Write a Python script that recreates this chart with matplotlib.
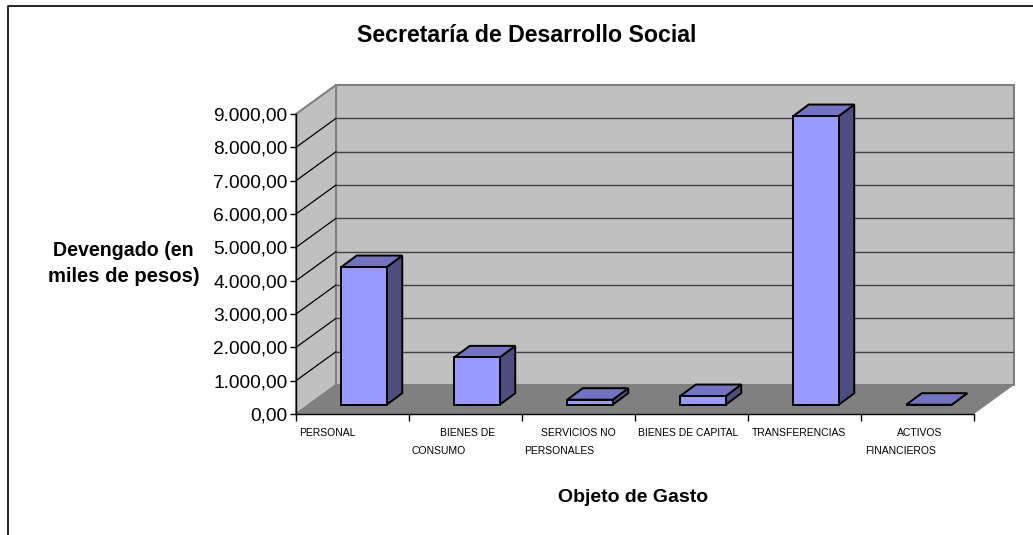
import matplotlib
matplotlib.use('Agg')
import matplotlib.pyplot as plt
from matplotlib.lines import Line2D

plt.rcParams['font.family'] = ['Liberation Sans', 'DejaVu Sans']

categories = ['PERSONAL', 'BIENES DE\nCONSUMO', 'SERVICIOS NO\nPERSONALES',
              'BIENES DE CAPITAL', 'TRANSFERENCIAS', 'ACTIVOS\nFINANCIEROS']
values = [4130, 1420, 150, 260, 8660, 0]
y_ticks = [0, 1000, 2000, 3000, 4000, 5000, 6000, 7000, 8000, 9000]
y_tick_labels = ['0,00', '1.000,00', '2.000,00', '3.000,00', '4.000,00',
                 '5.000,00', '6.000,00', '7.000,00', '8.000,00', '9.000,00']

W, H = 1033, 535
# pixel layout of the excel-ish 3d box
px_left, px_right, px_zero, px_top = 296, 974, 414, 114
px_dx, px_dy = 40, 29

y_scale = 9000 / (px_zero - px_top)
x_scale = 6 / (px_right - px_left)
depth_x = px_dx * x_scale
depth_y = px_dy * y_scale
bar_w = 45.5 * x_scale
bar_dx = 15.5 * x_scale
bar_dy = 11.5 * y_scale
bar_shift = 11.5 * x_scale
bar_base = 9.3 * y_scale

fig = plt.figure(figsize=(W / 100, H / 100), dpi=100)
# frame is cut off at the right and bottom of the picture
fig.add_artist(Line2D([7.5 / W, 7.5 / W, 1], [0, 1 - 5.5 / H, 1 - 5.5 / H],
                      transform=fig.transFigure, color='black', lw=1.2))

ax = fig.add_axes([px_left / W, (H - px_zero) / H,
                   (px_right - px_left + px_dx) / W, (px_zero - px_top + px_dy) / H])
ax.set_xlim(0, 6 + depth_x)
ax.set_ylim(0, 9000 + depth_y)
ax.patch.set_visible(False)

wall = '#C0C0C0'
floor = '#808080'
wall_edge = '#808080'

# walls and floor
ax.fill([depth_x, 6 + depth_x, 6 + depth_x, depth_x],
        [depth_y, depth_y, 9000 + depth_y, 9000 + depth_y],
        fc=wall, ec=wall_edge, lw=1.5, zorder=1, clip_on=False)
ax.fill([0, depth_x, depth_x, 0], [0, depth_y, 9000 + depth_y, 9000],
        fc=wall, ec=wall_edge, lw=1.5, zorder=1, clip_on=False)
ax.fill([0, 6, 6 + depth_x, depth_x], [0, 0, depth_y, depth_y],
        fc=floor, ec='none', zorder=2, clip_on=False)

# gridlines, the top one is just the gray wall edge
for t in y_ticks[1:-1]:
    ax.plot([0, depth_x], [t, t + depth_y], color='black', lw=0.9, zorder=2)
    ax.plot([depth_x, 6 + depth_x], [t + depth_y, t + depth_y], color='#404040', lw=1.0, zorder=2)

# bars: front face from ax.bar, side and top from polygons
centers = [i + 0.5 + bar_shift for i in range(len(values))]
for c, v in zip(centers, values):
    x0 = c - bar_w / 2
    x1 = c + bar_w / 2
    top = bar_base + v
    ax.fill([x1, x1 + bar_dx, x1 + bar_dx, x1],
            [bar_base, bar_base + bar_dy, top + bar_dy, top],
            fc='#4D4D80', ec='black', lw=1.4, zorder=4)
    ax.fill([x0, x1, x1 + bar_dx, x0 + bar_dx],
            [top, top, top + bar_dy, top + bar_dy],
            fc='#7373BF', ec='black', lw=1.4, zorder=4)
ax.bar(centers, values, width=bar_w, bottom=bar_base, color='#9999FF',
       edgecolor='black', linewidth=1.4, zorder=5)

# axes
for s in ['top', 'right']:
    ax.spines[s].set_visible(False)
ax.spines['left'].set_bounds(0, 9000)
ax.spines['bottom'].set_bounds(0, 6)
ax.spines['left'].set_linewidth(1.0)
ax.spines['bottom'].set_linewidth(1.0)
ax.spines['left'].set_zorder(6)
ax.spines['bottom'].set_zorder(6)
ax.set_yticks(y_ticks)
ax.set_yticklabels(y_tick_labels, fontsize=13.8)
ax.set_xticks(range(7))
ax.set_xticklabels([])
ax.tick_params(axis='y', length=4, width=1, pad=2)
ax.tick_params(axis='x', length=5, width=1)

# category labels sit where excel wrapped them, not centred on the ticks
first_line_x = [327, 467.5, 578.5, 688.5, 799, 920]
second_line_x = [None, 438.5, 559.5, None, None, 901]
for lab, x1, x2 in zip(categories, first_line_x, second_line_x):
    parts = lab.split('\n')
    fig.text(x1 / W, 1 - 433 / H, parts[0], fontsize=7.5, ha='center', va='center')
    if x2 is not None:
        fig.text(x2 / W, 1 - 451 / H, parts[1], fontsize=7.5, ha='center', va='center')

fig.text(527 / W, 1 - 35 / H, 'Secretaría de Desarrollo Social', fontsize=16.7,
         fontweight='bold', ha='center', va='center')
fig.text(123.5 / W, 1 - 250 / H, 'Devengado (en', fontsize=14.1, fontweight='bold', ha='center', va='center')
fig.text(124 / W, 1 - 276 / H, 'miles de pesos)', fontsize=14.6, fontweight='bold', ha='center', va='center')
fig.text(633 / W, 1 - 497 / H, 'Objeto de Gasto', fontsize=14, fontweight='bold', ha='center', va='center')

fig.savefig('out.png', dpi=100)
